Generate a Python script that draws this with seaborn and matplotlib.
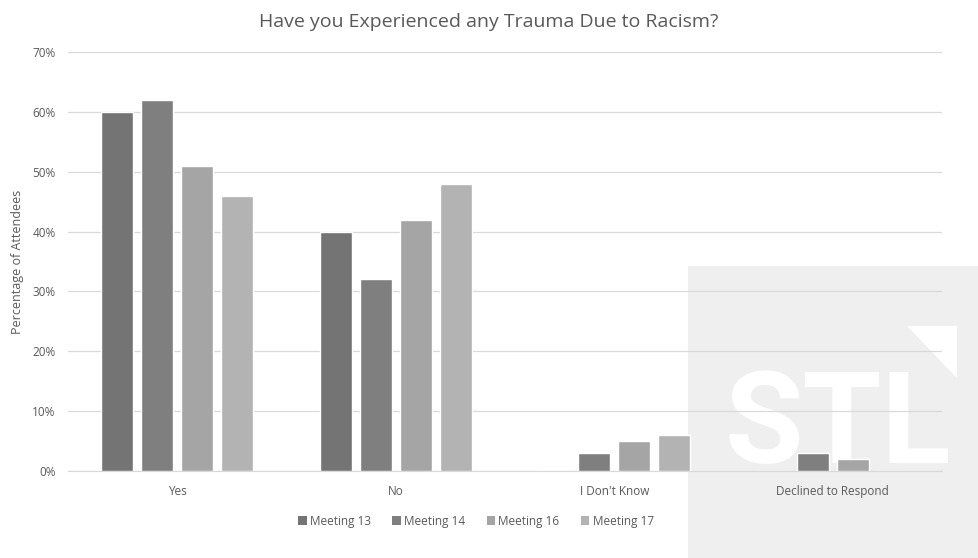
import pandas as pd
import matplotlib.pyplot as plt
import seaborn as sns
from matplotlib.patches import Rectangle, Polygon, Patch

# data (fractions)
categories = ["Yes", "No", "I Don't Know", "Declined to Respond"]
meetings = ["Meeting 13", "Meeting 14", "Meeting 16", "Meeting 17"]
meeting_13 = [0.60, 0.40, 0.00, 0.00]
meeting_14 = [0.62, 0.32, 0.03, 0.03]
meeting_16 = [0.51, 0.42, 0.05, 0.02]
meeting_17 = [0.46, 0.48, 0.06, 0.00]
y_ticks = [0, 0.1, 0.2, 0.3, 0.4, 0.5, 0.6, 0.7]
y_tick_labels = ["0%", "10%", "20%", "30%", "40%", "50%", "60%", "70%"]

colors = ["#747474", "#7f7f7f", "#a5a5a5", "#b3b3b3"]

rows = []
for name, vals in zip(meetings, [meeting_13, meeting_14, meeting_16, meeting_17]):
    for cat, v in zip(categories, vals):
        rows.append({"Response": cat, "Meeting": name, "Share": v})
df = pd.DataFrame(rows)

sns.set_style("white")
plt.rcParams["font.family"] = ["Open Sans", "DejaVu Sans"]
text_color = "#595959"

fig = plt.figure(figsize=(9.79, 5.58), dpi=100)
fig.patch.set_facecolor("white")

# watermark panel behind the plot
fig.patches.append(Rectangle((688 / 979, 0), 1 - 688 / 979, (558 - 266) / 558,
                             transform=fig.transFigure, facecolor="#efefef",
                             edgecolor="none", zorder=-10))
fig.text(725 / 979, (558 - 463) / 558, "STL", fontsize=92, fontweight="bold",
         family="Roboto", color="white", ha="left", va="baseline", zorder=-9)
fig.patches.append(Polygon([(907 / 979, 1 - 326 / 558), (957 / 979, 1 - 326 / 558),
                            (957 / 979, 1 - 378 / 558)],
                           closed=True, transform=fig.transFigure,
                           facecolor="white", edgecolor="none", zorder=-9))

ax = fig.add_axes([68 / 979, (558 - 471) / 558, (942 - 68) / 979, (471 - 52) / 558])
ax.patch.set_alpha(0)

sns.barplot(data=df, x="Response", y="Share", hue="Meeting", order=categories,
            hue_order=meetings, palette=colors, width=0.73, gap=0.2,
            saturation=1, ax=ax, legend=False, zorder=3)

ax.set_ylim(0, 0.7)
ax.set_yticks(y_ticks)
ax.set_yticklabels(y_tick_labels, color=text_color, fontsize=8.5)
ax.tick_params(axis="x", colors=text_color, labelsize=8.5, length=0, pad=10)
ax.tick_params(axis="y", length=0, pad=9)
ax.yaxis.grid(True, color="#d9d9d9", linewidth=0.9, zorder=0)
ax.set_axisbelow(True)
for s in ["top", "right", "left"]:
    ax.spines[s].set_visible(False)
ax.spines["bottom"].set_color("#d9d9d9")
ax.set_xlabel("")
ax.set_ylabel("Percentage of Attendees", color=text_color, fontsize=9, labelpad=6)

fig.text(489 / 979, 1 - 22 / 558, "Have you Experienced any Trauma Due to Racism?",
         ha="center", va="center", fontsize=14, color=text_color)

handles = [Patch(facecolor=c, edgecolor="none") for c in colors]
fig.legend(handles, meetings, loc="center", bbox_to_anchor=(476 / 979, 1 - 521 / 558),
           ncol=4, frameon=False, fontsize=8.5, handlelength=0.7, handleheight=0.7,
           handletextpad=0.3, columnspacing=1.8, labelcolor=text_color)

fig.savefig("out.png", dpi=100)
